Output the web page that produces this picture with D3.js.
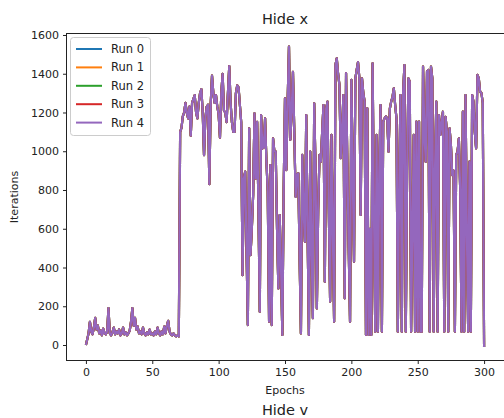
<!DOCTYPE html>
<html><head><meta charset="utf-8">
<script src="https://cdn.jsdelivr.net/npm/d3@7"></script>
<style>body{margin:0;background:#fff}svg{display:block;font-family:"DejaVu Sans",sans-serif}</style>
</head><body><svg id="c" width="504" height="418"></svg>
<script>
const runNames = ["Run 0","Run 1","Run 2","Run 3","Run 4"];
const runColors = ["#1f77b4","#ff7f0e","#2ca02c","#d62728","#9467bd"];
const xTicks = [0,50,100,150,200,250,300];
const yTicks = [0,200,400,600,800,1000,1200,1400,1600];
// iterations per epoch (all runs overlap exactly)
const iterations = [
0,30,60,120,70,55,90,140,80,100,
60,75,50,85,60,55,70,190,60,50,
65,90,55,70,60,80,50,60,90,55,
65,50,60,75,120,190,100,140,80,95,
60,70,55,90,60,50,65,55,80,55,
60,50,70,55,90,60,50,70,55,95,
60,100,125,70,55,50,60,50,45,50,
45,1100,1120,1180,1200,1250,1200,1170,1230,1080,
1250,1270,1290,1200,1170,1250,1300,1320,1200,980,
1170,1230,1240,830,1240,1390,1300,1250,1290,1230,
1190,1070,1300,1400,1210,1200,1150,1300,1440,1250,
1150,1100,1100,1300,1340,1330,1240,1150,360,860,
895,500,103,1118,464,600,774,1195,860,1152,
700,172,1186,1015,1020,1170,950,791,120,929,
103,1067,1000,998,600,292,671,400,52,800,
1273,903,1260,1540,1060,1200,1410,1100,765,880,
886,450,60,981,700,533,1187,600,52,998,
500,138,1247,912,189,700,981,946,1100,1238,
327,1221,1256,700,224,1084,600,120,1445,1480,
1400,1342,964,1100,1290,241,1403,912,500,120,
1368,900,430,1376,1420,1460,1380,671,1376,1300,
1256,52,1221,52,600,52,1454,700,69,1084,
69,900,1238,69,1153,1170,1180,1170,998,1221,
1256,1280,1325,1238,1170,69,800,1290,69,1307,
1445,69,900,1376,1359,69,600,1084,69,1153,
69,1153,69,69,1437,1100,946,1411,1420,69,
1437,1376,69,900,1256,69,1187,1084,1150,1204,
69,1178,1100,69,1118,1032,877,900,69,981,
998,1067,800,69,1204,69,1290,600,69,946,
69,1290,1256,1100,1015,1394,1376,1307,1300,1250,
-10];
const runs = runNames.map((n,i)=>({name:n,color:runColors[i],values:iterations}));

const svg = d3.select("#c");
const L=66,T=33,R=504,B=360;
const x = d3.scaleLinear().domain([-15,315]).range([L,R]);
const y = d3.scaleLinear().domain([-77.4,1610.3]).range([B,T]);
const txt="#222";

const line = d3.line().x((d,i)=>x(i)).y(d=>y(d));
svg.append("g").selectAll("path").data(runs).join("path")
  .attr("d",d=>line(d.values)).attr("fill","none")
  .attr("stroke",d=>d.color).attr("stroke-width",2.2).attr("stroke-linejoin","round");

// spines (right spine falls at the image edge)
const sp = svg.append("g").attr("stroke","#222").attr("stroke-width",1);
sp.append("line").attr("x1",L+0.5).attr("x2",L+0.5).attr("y1",T).attr("y2",B+1);
sp.append("line").attr("x1",L).attr("x2",R).attr("y1",T+0.5).attr("y2",T+0.5);
sp.append("line").attr("x1",L).attr("x2",R).attr("y1",B+0.5).attr("y2",B+0.5);

const xa = svg.append("g").attr("transform",`translate(0,${B+0.5})`)
  .call(d3.axisBottom(x).tickValues(xTicks).tickSize(3.5).tickPadding(4).tickFormat(d3.format("d")));
const ya = svg.append("g").attr("transform",`translate(${L+0.5},0)`)
  .call(d3.axisLeft(y).tickValues(yTicks).tickSize(3.5).tickPadding(4).tickFormat(d3.format("d")));
[xa,ya].forEach(a=>{a.select(".domain").remove();
  a.selectAll("line").attr("stroke","#222");
  a.selectAll("text").attr("fill",txt).style("font-size","11px").style("font-family","DejaVu Sans");});

svg.append("text").attr("x",285).attr("y",24).attr("text-anchor","middle")
  .style("font-size","14.5px").attr("fill",txt).text("Hide x");
svg.append("text").attr("x",285).attr("y",394).attr("text-anchor","middle")
  .style("font-size","11px").attr("fill",txt).text("Epochs");
svg.append("text").attr("transform","translate(18,197) rotate(-90)").attr("text-anchor","middle")
  .style("font-size","11px").attr("fill",txt).text("Iterations");
svg.append("text").attr("x",285).attr("y",415).attr("text-anchor","middle")
  .style("font-size","14.5px").attr("fill",txt).text("Hide v");

// legend
const lg = svg.append("g");
lg.append("rect").attr("x",70.5).attr("y",37.5).attr("width",80).attr("height",98).attr("rx",3)
  .attr("fill","#fff").attr("fill-opacity",0.8).attr("stroke","#ccc");
const rows = lg.selectAll("g.r").data(runs).join("g").attr("class","r")
  .attr("transform",(d,i)=>`translate(0,${49+i*18.4})`);
rows.append("line").attr("x1",76).attr("x2",102).attr("stroke",d=>d.color).attr("stroke-width",2);
rows.append("text").attr("x",111).attr("y",4).style("font-size","11.5px").attr("fill",txt).text(d=>d.name);
</script></body></html>
